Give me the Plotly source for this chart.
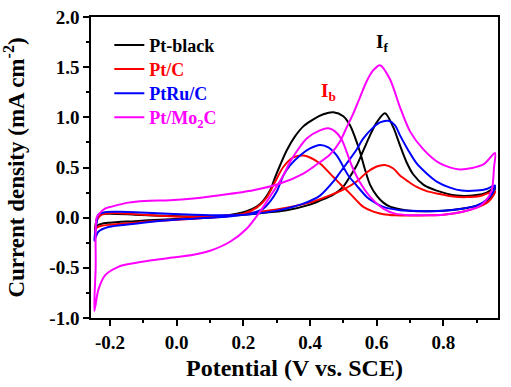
import plotly.graph_objects as go

# ---------------- data ----------------
black_x = [-0.245, -0.238, -0.225, -0.2, -0.125, -0.05, 0.025, 0.1, 0.18, 0.25, 0.33, 0.40, 0.43, 0.47, 0.50,
           0.52, 0.54, 0.56, 0.58, 0.60, 0.625, 0.65, 0.67, 0.69, 0.71, 0.74, 0.78, 0.84, 0.9, 0.93, 0.955,
           0.95, 0.935, 0.9, 0.855, 0.8, 0.755, 0.7, 0.67, 0.64, 0.62, 0.60, 0.58, 0.565, 0.55, 0.535, 0.52,
           0.5, 0.47, 0.44, 0.41, 0.38, 0.355, 0.33, 0.31, 0.295, 0.28, 0.26, 0.24, 0.21, 0.18, 0.12, 0.05,
           -0.05, -0.125, -0.2, -0.225, -0.24, -0.245]
black_y = [-0.12, 0.0, 0.035, 0.04, 0.03, 0.02, 0.012, 0.015, 0.025, 0.045, 0.075, 0.13, 0.17, 0.23, 0.31,
           0.41, 0.52, 0.67, 0.82, 0.95, 1.04, 0.9, 0.72, 0.55, 0.43, 0.33, 0.27, 0.22, 0.225, 0.25, 0.30,
           0.25, 0.18, 0.12, 0.088, 0.07, 0.065, 0.07, 0.085, 0.11, 0.15, 0.22, 0.33, 0.48, 0.655, 0.8, 0.92,
           1.01, 1.05, 1.03, 0.98, 0.91, 0.81, 0.67, 0.52, 0.40, 0.27, 0.17, 0.11, 0.065, 0.04, 0.01, -0.005,
           -0.02, -0.035, -0.05, -0.06, -0.085, -0.12]

red_x = [-0.245, -0.238, -0.225, -0.2, -0.125, -0.05, 0.025, 0.1, 0.18, 0.25, 0.33, 0.40, 0.45, 0.5, 0.54,
         0.57, 0.6, 0.625, 0.65, 0.67, 0.695, 0.72, 0.75, 0.79, 0.83, 0.87, 0.91, 0.955,
         0.95, 0.935, 0.9, 0.855, 0.8, 0.755, 0.7, 0.655, 0.62, 0.59, 0.56, 0.54, 0.52, 0.495, 0.47, 0.43,
         0.40, 0.38, 0.35, 0.32, 0.295, 0.27, 0.24, 0.2, 0.15, 0.05, -0.05, -0.125, -0.2, -0.225, -0.24, -0.245]
red_y = [-0.14, -0.02, 0.03, 0.045, 0.035, 0.02, 0.01, 0.015, 0.03, 0.06, 0.1, 0.15, 0.21, 0.28, 0.36,
         0.45, 0.51, 0.525, 0.49, 0.42, 0.36, 0.306, 0.265, 0.235, 0.21, 0.205, 0.215, 0.265,
         0.22, 0.16, 0.1, 0.057, 0.03, 0.024, 0.022, 0.024, 0.035, 0.06, 0.107, 0.17, 0.24, 0.32, 0.405, 0.54,
         0.6, 0.62, 0.6, 0.505, 0.356, 0.2, 0.1, 0.04, 0.015, -0.01, -0.03, -0.05, -0.07, -0.08, -0.1, -0.14]

blue_x = [-0.247, -0.24, -0.235, -0.215, -0.17, -0.125, -0.025, 0.05, 0.145, 0.22, 0.3, 0.38, 0.43, 0.47,
          0.49, 0.51, 0.54, 0.56, 0.59, 0.61, 0.635, 0.655, 0.67, 0.695, 0.72, 0.75, 0.78, 0.82, 0.855, 0.9,
          0.93, 0.955,
          0.95, 0.935, 0.9, 0.855, 0.8, 0.75, 0.7, 0.67, 0.62, 0.59, 0.57, 0.54, 0.515, 0.48, 0.455, 0.43,
          0.40, 0.37, 0.34, 0.32, 0.30, 0.28, 0.26, 0.22, 0.15, 0.05, -0.025, -0.125, -0.205, -0.235, -0.247]
blue_y = [-0.23, -0.05, 0.03, 0.055, 0.058, 0.055, 0.04, 0.03, 0.024, 0.035, 0.07, 0.14, 0.22, 0.36,
          0.45, 0.54, 0.68, 0.79, 0.9, 0.95, 0.965, 0.92, 0.82, 0.67, 0.54, 0.44, 0.36, 0.3, 0.27, 0.27,
          0.285, 0.32,
          0.26, 0.19, 0.12, 0.09, 0.07, 0.065, 0.068, 0.074, 0.107, 0.16, 0.207, 0.32, 0.42, 0.62, 0.7, 0.725,
          0.69, 0.62, 0.52, 0.42, 0.26, 0.16, 0.09, 0.04, 0.01, -0.01, -0.026, -0.06, -0.093, -0.14, -0.23]

mag_x = [-0.247, -0.243, -0.24, -0.23, -0.215, -0.195, -0.145, -0.095, -0.02, 0.05, 0.13, 0.23, 0.31,
         0.38, 0.42, 0.46, 0.49, 0.51, 0.53, 0.55, 0.57, 0.59, 0.61, 0.64, 0.67, 0.70, 0.74, 0.79, 0.85,
         0.92, 0.955,
         0.952, 0.945, 0.925, 0.905, 0.855, 0.8, 0.755, 0.7, 0.655, 0.62, 0.58, 0.55, 0.525, 0.495, 0.475,
         0.455, 0.43, 0.39, 0.36, 0.34, 0.32, 0.29, 0.25, 0.21, 0.16, 0.1, 0.05, -0.02, -0.075, -0.13,
         -0.175, -0.215, -0.235, -0.247]
mag_y = [-0.93, -0.5, 0.0, 0.047, 0.09, 0.11, 0.15, 0.167, 0.173, 0.19, 0.223, 0.273, 0.34,
         0.44, 0.53, 0.63, 0.76, 0.9, 1.04, 1.2, 1.36, 1.47, 1.52, 1.38, 1.1, 0.86, 0.68, 0.54, 0.48,
         0.53, 0.645,
         0.5, 0.27, 0.16, 0.107, 0.057, 0.03, 0.024, 0.025, 0.04, 0.09, 0.21, 0.35, 0.52, 0.78, 0.86,
         0.89, 0.87, 0.79, 0.66, 0.555, 0.42, 0.26, 0.06, -0.11, -0.24, -0.33, -0.37, -0.40, -0.425, -0.455,
         -0.49, -0.575, -0.72, -0.93]

series_names = ["Pt-black", "Pt/C", "PtRu/C", "Pt/Mo<sub>2</sub>C"]
series_colors = ["#000000", "#FF0000", "#0000FF", "#FF00FF"]
series_x = [black_x, red_x, blue_x, mag_x]
series_y = [black_y, red_y, blue_y, mag_y]

x_ticks = [-0.2, 0.0, 0.2, 0.4, 0.6, 0.8]
x_tick_labels = ["-0.2", "0.0", "0.2", "0.4", "0.6", "0.8"]
y_ticks = [-1.0, -0.5, 0.0, 0.5, 1.0, 1.5, 2.0]
y_tick_labels = ["-1.0", "-0.5", "0.0", "0.5", "1.0", "1.5", "2.0"]

FONT = "Liberation Serif, Times New Roman, serif"

legend_ids = ["legend", "legend2", "legend3", "legend4"]
legend_ys = [0.906, 0.826, 0.746, 0.666]

fig = go.Figure()
for name, color, xs, ys, lid in zip(series_names, series_colors, series_x, series_y, legend_ids):
    fig.add_trace(go.Scatter(
        x=xs, y=ys, mode="lines", line=dict(color=color, width=2, shape="spline", smoothing=0.8),
        name=f'<span style="color:{color}"><b>{name}</b></span>', legend=lid))

fig.add_annotation(x=0.615, y=1.74, text="<b>I<sub>f</sub></b>", showarrow=False,
                   font=dict(family=FONT, size=19, color="#000000"))
fig.add_annotation(x=0.455, y=1.25, text="<b>I<sub>b</sub></b>", showarrow=False,
                   font=dict(family=FONT, size=19, color="#FF0000"))

axis_common = dict(showline=True, linecolor="black", linewidth=1.5, mirror=True,
                   ticks="outside", ticklen=6, tickwidth=1.5, tickcolor="black",
                   showgrid=False, zeroline=False, automargin=False,
                   tickfont=dict(family=FONT, size=19, color="black"))

fig.update_xaxes(range=[-0.257, 0.964], tickvals=x_ticks, ticktext=[f"<b>{t}</b>" for t in x_tick_labels],
                 minor=dict(ticks="outside", ticklen=3, tickwidth=1.5, dtick=0.1, tick0=-0.1, tickcolor="black"),
                 title=dict(text="<b>Potential (V vs. SCE)</b>", font=dict(family=FONT, size=24, color="black"),
                            standoff=8),
                 **axis_common)
fig.update_yaxes(range=[-1.0, 2.0], tickvals=y_ticks, ticktext=[f"<b>{t}</b>" for t in y_tick_labels],
                 minor=dict(ticks="outside", ticklen=3, tickwidth=1.5, dtick=0.25, tick0=-0.75, tickcolor="black"),
                 title=dict(text="<b>Current density (mA cm<sup>-2</sup>)</b>",
                            font=dict(family=FONT, size=23, color="black"), standoff=19),
                 **axis_common)

legend_style = dict(x=0.045, xanchor="left", yanchor="middle", bgcolor="rgba(0,0,0,0)",
                    font=dict(family=FONT, size=18, color="black"), itemwidth=30)
fig.update_layout(
    width=511, height=387,
    margin=dict(l=91, r=13, t=17, b=69),
    paper_bgcolor="white", plot_bgcolor="white",
    showlegend=True,
    legend=dict(y=legend_ys[0], **legend_style),
    legend2=dict(y=legend_ys[1], **legend_style),
    legend3=dict(y=legend_ys[2], **legend_style),
    legend4=dict(y=legend_ys[3], **legend_style),
)

fig.write_html("out.html", config={"displayModeBar": False},
               post_script="document.body.style.margin='0';")
